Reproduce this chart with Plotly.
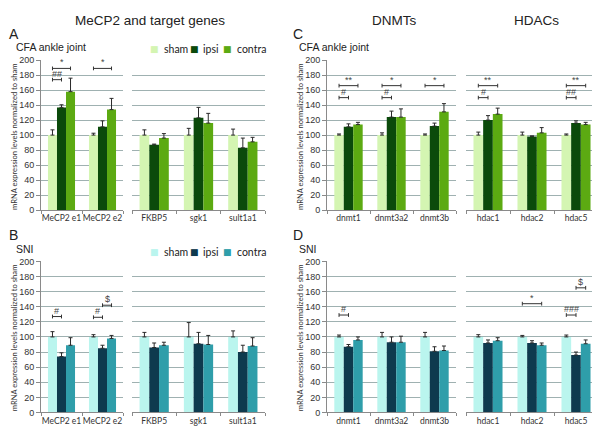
import plotly.graph_objects as go

W, H = 600, 430

groups = ["sham", "ipsi", "contra"]
cfa_colors = ["#d4f5b2", "#0b4a0b", "#5caa12"]
sni_colors = ["#baf5ee", "#0e3a4e", "#2f9eaa"]

# ---------------- data ----------------
mecp_cats = ["MeCP2 e1", "MeCP2 e2"]
target_cats = ["FKBP5", "sgk1", "sult1a1"]
dnmt_cats = ["dnmt1", "dnmt3a2", "dnmt3b"]
hdac_cats = ["hdac1", "hdac2", "hdac5"]

# Panel A (CFA) MeCP2
a1_vals = [[100, 100], [137, 111], [158, 134]]
a1_errs = [[7, 2.5], [3.5, 8], [18, 15]]
# Panel A (CFA) targets
a2_vals = [[100, 100, 100], [87, 123, 83], [96, 116, 91]]
a2_errs = [[7, 9, 8], [1, 14, 13], [6, 13, 6]]
# Panel B (SNI) MeCP2
b1_vals = [[100, 100], [74, 85], [89, 98]]
b1_errs = [[7, 3], [5, 4], [10, 4]]
# Panel B (SNI) targets
b2_vals = [[100, 100, 100], [86, 91, 80], [89, 90, 88]]
b2_errs = [[6, 19, 8], [6, 15, 9], [4, 12, 11]]
# Panel C (CFA) DNMTs
c1_vals = [[100, 100, 100], [111, 124, 112], [114, 124, 131]]
c1_errs = [[1.5, 3, 1.5], [4, 8, 4], [3, 11, 11]]
# Panel C (CFA) HDACs
c2_vals = [[100, 100, 100], [120, 98, 116], [128, 103, 114]]
c2_errs = [[4, 4, 1.5], [6, 1, 3], [8, 7, 3]]
# Panel D (SNI) DNMTs
d1_vals = [[100, 100, 100], [87, 93, 81], [96, 93, 82]]
d1_errs = [[2.5, 6, 6], [3, 7, 6], [4, 8, 6]]
# Panel D (SNI) HDACs
d2_vals = [[100, 100, 100], [92, 92, 76], [95, 89, 91]]
d2_errs = [[3, 2, 2.5], [4, 3, 4], [4, 3, 5]]

# significance brackets: (category index, from group, to group, y, label)
a1_sig = [(0, 0, 2, 189, "*"), (0, 0, 1, 174, "##"), (1, 0, 2, 189, "*")]
a2_sig = []
b1_sig = [(0, 0, 1, 127, "#"), (1, 0, 1, 126, "#"), (1, 1, 2, 142, "$")]
b2_sig = []
c1_sig = [(0, 0, 2, 166, "**"), (0, 0, 1, 150, "#"), (1, 0, 2, 166, "*"),
          (1, 0, 1, 150, "#"), (2, 0, 2, 166, "*")]
c2_sig = [(0, 0, 2, 166, "**"), (0, 0, 1, 150, "#"), (2, 0, 2, 166, "**"),
          (2, 0, 1, 150, "##")]
d1_sig = [(0, 0, 1, 129, "#")]
d2_sig = [(1, 0, 2, 144, "*"), (2, 1, 2, 165, "$"), (2, 0, 1, 129, "###")]

y_ticks = [0, 20, 40, 60, 80, 100, 120, 140, 160, 180, 200]

# ---------------- layout geometry (pixels) ----------------
def px_x(a, b):
    return [a / W, b / W]

def px_y(top, bottom):
    return [1 - bottom / H, 1 - top / H]

subplots = [
    # cats, vals, errs, colors, sig, xdom, ydom, first_in_row
    (mecp_cats, a1_vals, a1_errs, cfa_colors, a1_sig, px_x(33, 115), px_y(48.3, 201.7), True),
    (target_cats, a2_vals, a2_errs, cfa_colors, a2_sig, px_x(124, 257), px_y(48.3, 201.7), False),
    (mecp_cats, b1_vals, b1_errs, sni_colors, b1_sig, px_x(33, 115), px_y(254.3, 409), True),
    (target_cats, b2_vals, b2_errs, sni_colors, b2_sig, px_x(124, 257), px_y(254.3, 409), False),
    (dnmt_cats, c1_vals, c1_errs, cfa_colors, c1_sig, px_x(319, 448), px_y(48.3, 201.7), True),
    (hdac_cats, c2_vals, c2_errs, cfa_colors, c2_sig, px_x(458, 590), px_y(48.3, 201.7), False),
    (dnmt_cats, d1_vals, d1_errs, sni_colors, d1_sig, px_x(319, 448), px_y(254.3, 409), True),
    (hdac_cats, d2_vals, d2_errs, sni_colors, d2_sig, px_x(458, 590), px_y(254.3, 409), False),
]

BARGAP = 0.34
bw = (1 - BARGAP) / 3
GRID = "#9fb1b1"
AXIS = "#8a8a8a"
TXT = "#333333"

fig = go.Figure()
shapes = []
annotations = []
layout_axes = {}

for k, (cats, vals, errs, cols, sig, xdom, ydom, first) in enumerate(subplots):
    n = k + 1
    xa = "x" if n == 1 else f"x{n}"
    ya = "y" if n == 1 else f"y{n}"
    for g in range(3):
        fig.add_trace(go.Bar(
            x=cats, y=vals[g], name=groups[g], xaxis=xa, yaxis=ya,
            marker=dict(color=cols[g], line=dict(width=0)),
            offsetgroup=str(g), showlegend=False,
            error_y=dict(type="data", array=errs[g], arrayminus=[0] * len(cats),
                         symmetric=False, color="#2a2a2a", thickness=1, width=2),
        ))
    layout_axes["xaxis" if n == 1 else f"xaxis{n}"] = dict(
        domain=xdom, anchor=ya, type="category", showgrid=False,
        showline=True, linecolor=AXIS, linewidth=1, ticks="outside",
        tickson="boundaries", ticklen=3, tickcolor=AXIS, tickangle=0,
        tickfont=dict(family="Lato", size=8.5, color=TXT), fixedrange=True,
    )
    layout_axes["yaxis" if n == 1 else f"yaxis{n}"] = dict(
        domain=ydom, anchor=xa, range=[0, 200], tickvals=y_ticks,
        showgrid=True, gridcolor=GRID, gridwidth=1, zeroline=False,
        showline=first, linecolor=AXIS, linewidth=1,
        ticks="outside" if first else "", ticklen=4, tickcolor=AXIS,
        showticklabels=first,
        tickfont=dict(family="Liberation Sans", size=9, color=TXT),
    )
    for (ci, g0, g1, yv, lab) in sig:
        x0 = ci + (g0 - 1) * bw
        x1 = ci + (g1 - 1) * bw
        ln = dict(color="#333333", width=1)
        shapes.append(dict(type="line", xref=xa, yref=ya, x0=x0, x1=x1, y0=yv, y1=yv, line=ln))
        shapes.append(dict(type="line", xref=xa, yref=ya, x0=x0, x1=x0, y0=yv - 2.5, y1=yv + 2.5, line=ln))
        shapes.append(dict(type="line", xref=xa, yref=ya, x0=x1, x1=x1, y0=yv - 2.5, y1=yv + 2.5, line=ln))
        annotations.append(dict(xref=xa, yref=ya, x=(x0 + x1) / 2, y=yv, text=lab,
                                showarrow=False, yanchor="bottom", yshift=-1,
                                font=dict(family="Liberation Sans", size=9, color="#444")))

def pa(text, x, y, size, family="Liberation Sans", xanchor="left", color="#222", angle=0):
    annotations.append(dict(xref="paper", yref="paper", x=x / W, y=1 - y / H, text=text,
                            showarrow=False, xanchor=xanchor, yanchor="middle",
                            textangle=angle, font=dict(family=family, size=size, color=color)))

# titles
pa("MeCP2 and target genes", 142, 8, 13.5, xanchor="center")
pa("DNMTs", 386, 8, 13.5, xanchor="center")
pa("HDACs", 528, 8, 13.5, xanchor="center")
# panel letters
pa("A", -1, 22, 14)
pa("B", -1, 227, 14)
pa("C", 283, 22, 14)
pa("D", 283, 227, 14)
# sub labels
pa("CFA ankle joint", 6, 35, 10.5)
pa("SNI", 6, 242, 10.5)
pa("CFA ankle joint", 289, 35, 10.5)
pa("SNI", 289, 242, 10.5)
# y titles
ytitle = "mRNA expression levels normalized to sham"
for (xx, yy) in [(6, 127), (6, 333), (292, 127), (292, 333)]:
    pa(ytitle, xx, yy, 7.6, family="Lato", xanchor="center", color="#333", angle=-90)

# legends
leg_x = [(146, 154), (186, 193), (220, 227)]
for (ly, cols) in [(37, cfa_colors), (245, sni_colors)]:
    for g, (mx, tx) in enumerate(leg_x):
        pa("■", mx, ly, 9, family="DejaVu Sans", xanchor="center", color=cols[g])
        pa(groups[g], tx, ly, 10.5, family="Lato", color="#222")

fig.update_layout(
    width=W, height=H, margin=dict(l=0, r=0, t=0, b=0),
    paper_bgcolor="white", plot_bgcolor="white",
    barmode="group", bargap=BARGAP, bargroupgap=0,
    showlegend=False, shapes=shapes, annotations=annotations,
    **layout_axes,
)

fig.write_html("out.html")
